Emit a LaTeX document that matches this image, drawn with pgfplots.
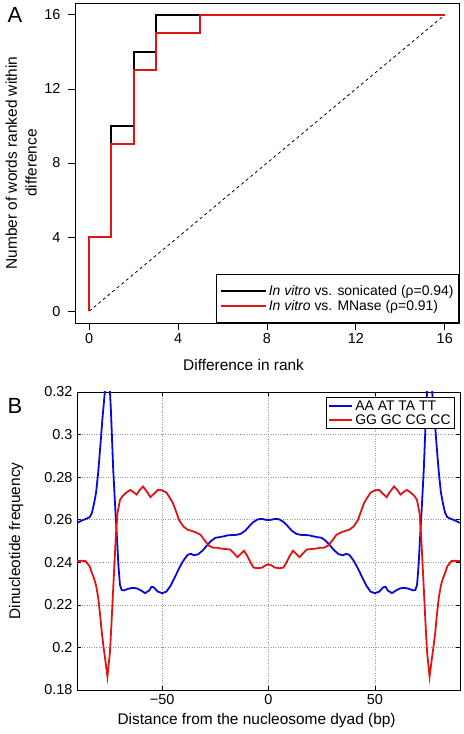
\documentclass[border=0pt]{standalone}
\usepackage{fontspec}
\setmainfont{Liberation Sans}
\usepackage{pgfplots}
\pgfplotsset{compat=1.18}
\definecolor{mblue}{RGB}{10,10,215}
\definecolor{mred}{RGB}{225,20,20}
\begin{document}
\begin{tikzpicture}
\path[use as bounding box] (0bp,0bp) rectangle (464bp,734bp);
\node[font=\fontsize{22}{26}\selectfont] at (15bp,719bp) {A};
\node[font=\fontsize{22}{26}\selectfont] at (15bp,328bp) {B};
\begin{axis}[
  scale only axis, anchor=south west, at={(75bp,411bp)},
  width=384bp, height=320bp,
  xmin=-0.64, xmax=16.64, ymin=-0.64, ymax=16.64,
  axis line style={line width=0.9bp},
  tick align=outside, xtick pos=bottom, ytick pos=left,
  major tick length=7bp,
  every tick/.style={black, line width=0.8bp},
  xtick={0,4,8,12,16}, ytick={0,4,8,12,16},
  tick label style={font=\fontsize{14.5}{17}\selectfont},
  /pgf/number format/assume math mode=true,
  yticklabel style={xshift=-4bp},
  xlabel={Difference in rank},
  xlabel style={at={(axis description cs:0.439,-0.131)}, anchor=center, font=\fontsize{15.5}{18}\selectfont},
  ylabel={Number of words ranked within\\difference},
  ylabel style={at={(axis description cs:-0.14,0.5)}, anchor=center, align=center, font=\fontsize{15.5}{20}\selectfont},
  legend style={at={(axis description cs:1,0)}, anchor=south east, draw=black, line width=0.8bp,
    font=\fontsize{14}{17}\selectfont, inner xsep=3bp, inner ysep=9bp, row sep=-1bp},
  legend cell align=left,
  legend image code/.code={\path (0bp,0bp) -- (45bp,0bp); \draw[#1] (10bp,0bp) -- (37bp,0bp);},
]
\addplot[black, line width=0.8bp, dash pattern=on 3bp off 3bp, forget plot] coordinates {(0,0) (16,16)};
\addplot[black, line width=2bp] coordinates {(0,0) (0,4) (1,4) (1,10) (2,10) (2,14) (3,14) (3,16) (16,16)};
\addlegendentry{\textit{In vitro} vs. sonicated (ρ=0.94)}
\addplot[mred, line width=2bp] coordinates {(0,0) (0,4) (1,4) (1,9) (2,9) (2,13) (3,13) (3,15) (5,15) (5,16) (16,16)};
\addlegendentry{\textit{In vitro} vs. MNase (ρ=0.91)}
\end{axis}

\begin{axis}[
  scale only axis, anchor=south west, at={(77bp,44bp)},
  width=383bp, height=298bp,
  xmin=-90, xmax=90, ymin=0.18, ymax=0.32,
  axis line style={line width=0.9bp},
  tick align=inside, major tick length=4bp,
  every tick/.style={black, line width=0.6bp},
  xtick={-50,0,50}, xticklabels={−50,0,50},
  ytick={0.18,0.2,0.22,0.24,0.26,0.28,0.3,0.32},
  yticklabels={0.18,0.2,0.22,0.24,0.26,0.28,0.3,0.32},
  grid=major, grid style={dotted, gray!80, line width=0.6bp},
  tick label style={font=\fontsize{14.5}{17}\selectfont},
  yticklabel style={xshift=-1bp},
  xticklabel style={yshift=-1bp},
  xlabel={Distance from the nucleosome dyad (bp)},
  xlabel style={at={(axis description cs:0.469,-0.103)}, anchor=center, font=\fontsize{15.5}{18}\selectfont},
  ylabel={Dinucleotide frequency},
  ylabel style={at={(axis description cs:-0.159,0.5)}, anchor=center, font=\fontsize{15.5}{18}\selectfont},
  legend style={at={(axis description cs:0.987,0.983)}, anchor=north east, draw=black, line width=0.8bp,
    font=\fontsize{14}{16}\selectfont, inner xsep=2bp, inner ysep=1bp, row sep=-1bp},
  legend cell align=left,
  legend image code/.code={\draw[#1] (0bp,0bp) -- (23bp,0bp);},
]
\addplot[mblue, line width=1.8bp] coordinates {
(-90,0.2585) (-88,0.2595) (-86,0.2603) (-84,0.2612) (-83,0.2632) (-82,0.2675) (-81,0.2730) (-80,0.2826)
(-79,0.2950) (-78,0.3080) (-77,0.3190) (-76.5,0.3260) (-75.7,0.3330) (-74.8,0.3260) (-74,0.3100) (-73,0.2840)
(-72,0.2650) (-71.3,0.2528) (-70.5,0.2380) (-69.8,0.2293) (-69,0.2270) (-68,0.2268) (-66,0.2275)
(-64,0.2280) (-62,0.2278) (-60,0.2268) (-58,0.2255) (-56,0.2268)
(-55,0.2285) (-54,0.2283) (-52,0.2262) (-50,0.2255) (-48,0.2262) (-46,0.2290) (-44,0.2330) (-42,0.2372)
(-40,0.2408) (-38,0.2435) (-36.5,0.2440) (-35,0.2433) (-33,0.2438) (-31,0.2455) (-29,0.2478) (-27,0.2500)
(-25,0.2515) (-23,0.2518) (-21,0.2522) (-19,0.2527) (-17,0.2528) (-15,0.2529) (-13,0.2534) (-11,0.2548)
(-9,0.2570) (-7,0.2590) (-5,0.2602) (-3,0.2604) (-1.5,0.2600) (0,0.2598)
(1.5,0.2600) (3,0.2604) (5,0.2602) (7,0.2590) (9,0.2570) (11,0.2548) (13,0.2534) (15,0.2529)
(17,0.2528) (19,0.2527) (21,0.2522) (23,0.2518) (25,0.2515) (27,0.2500) (29,0.2478) (31,0.2455)
(33,0.2438) (35,0.2433) (36.5,0.2440) (38,0.2435) (40,0.2408) (42,0.2372) (44,0.2330) (46,0.2290)
(48,0.2262) (50,0.2255) (52,0.2262) (54,0.2283) (55,0.2285) (56,0.2268) (58,0.2255) (60,0.2268)
(62,0.2278) (64,0.2280) (66,0.2275) (68,0.2268) (69,0.2270) (69.8,0.2293) (70.5,0.2380) (71.3,0.2528)
(72,0.2650) (73,0.2840) (74,0.3100) (74.8,0.3260) (75.7,0.3330) (76.5,0.3260) (77,0.3190) (78,0.3080)
(79,0.2950) (80,0.2826) (81,0.2730) (82,0.2675) (83,0.2632) (84,0.2612) (86,0.2603) (88,0.2595) (90,0.2585)
};
\addlegendentry{AA AT TA TT}
\addplot[mred, line width=1.8bp] coordinates {
(-90,0.2405) (-88,0.2407) (-86,0.2406) (-84,0.2380) (-83,0.2350) (-82,0.2325) (-81,0.2290) (-80,0.2231)
(-79,0.2140) (-78.4,0.2074) (-77.5,0.2000) (-76.8,0.1949) (-75.7,0.1863) (-74.5,0.1980) (-73.7,0.2130)
(-72.9,0.2293) (-71.8,0.2513) (-71,0.2630) (-69.8,0.2693) (-68.5,0.2712) (-67,0.2726) (-65,0.2740)
(-63.5,0.2730) (-62,0.2718) (-60.5,0.2740)
(-59,0.2756) (-57,0.2730) (-55.5,0.2706) (-54,0.2720) (-52,0.2740) (-50,0.2738) (-48,0.2728) (-46.5,0.2705)
(-45,0.2680) (-43.5,0.2640) (-42,0.2598) (-40,0.2568) (-38,0.2553) (-36,0.2547) (-34,0.2540) (-32,0.2530)
(-30,0.2503) (-28,0.2478) (-26,0.2468) (-24,0.2468) (-22,0.2464) (-20,0.2462) (-18,0.2460) (-16.5,0.2445)
(-14.6,0.2424) (-13,0.2440) (-11.5,0.2454) (-10,0.2430) (-8.5,0.2400) (-7,0.2375) (-5,0.2372) (-3,0.2375)
(-1.5,0.2385) (0,0.2391)
(1.5,0.2385) (3,0.2375) (5,0.2372) (7,0.2375) (8.5,0.2400) (10,0.2430) (11.5,0.2454) (13,0.2440)
(14.6,0.2424) (16.5,0.2445) (18,0.2460) (20,0.2462) (22,0.2464) (24,0.2468) (26,0.2468) (28,0.2478)
(30,0.2503) (32,0.2530) (34,0.2540) (36,0.2547) (38,0.2553) (40,0.2568) (42,0.2598) (43.5,0.2640)
(45,0.2680) (46.5,0.2705) (48,0.2728) (50,0.2738) (52,0.2740) (54,0.2720) (55.5,0.2706) (57,0.2730)
(59,0.2756) (60.5,0.2740) (62,0.2718) (63.5,0.2730) (65,0.2740) (67,0.2726) (68.5,0.2712) (69.8,0.2693)
(71,0.2630) (71.8,0.2513) (72.9,0.2293) (73.7,0.2130) (74.5,0.1980) (75.7,0.1863) (76.8,0.1949) (77.5,0.2000)
(78.4,0.2074) (79,0.2140) (80,0.2231) (81,0.2290) (82,0.2325) (83,0.2350) (84,0.2380) (86,0.2406)
(88,0.2407) (90,0.2405)
};
\addlegendentry{GG GC CG CC}
\end{axis}
\end{tikzpicture}
\end{document}
